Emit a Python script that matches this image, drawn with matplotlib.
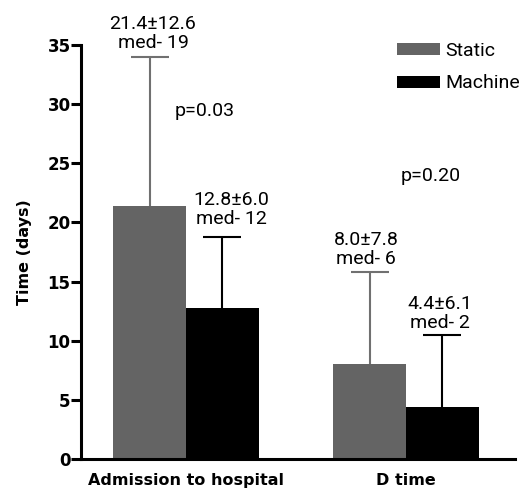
import matplotlib
matplotlib.use("Agg")
import matplotlib.pyplot as plt
import numpy as np

categories = ["Admission to hospital", "D time"]
series_names = ["Static", "Machine"]
static_mean = [21.4, 8.0]
static_sd = [12.6, 7.8]
static_med = [19, 6]
machine_mean = [12.8, 4.4]
machine_sd = [6.0, 6.1]
machine_med = [12, 2]
p_values = ["p=0.03", "p=0.20"]
yticks = [0, 5, 10, 15, 20, 25, 30, 35]

static_color = "#646464"
static_err_color = "#707070"
machine_color = "#000000"

fig = plt.figure(figsize=(5.26, 4.94), dpi=100)
ax = fig.add_axes([81/526, 1-459/494, (515-81)/526, (459-45)/494])

x = np.arange(len(categories))
w = 0.33
xs = x - w/2
xm = x + w/2

ax.bar(xs, static_mean, width=w, color=static_color, label=series_names[0], zorder=2)
ax.bar(xm, machine_mean, width=w, color=machine_color, label=series_names[1], zorder=2)

for xp, mean, sd, col in [(xs, static_mean, static_sd, static_err_color),
                          (xm, machine_mean, machine_sd, machine_color)]:
    eb = ax.errorbar(xp, mean, yerr=[np.zeros(len(x)), sd], fmt='none',
                     ecolor=col, elinewidth=1.5, capsize=14, capthick=1.5, zorder=1)
    caps = eb[1]
    if len(caps) >= 2:
        caps[0].set_visible(False)

afont = dict(family=["Roboto", "DejaVu Sans"], fontsize=14)
static_txt_pos = [(-0.15, 36.0), (0.818, 17.7)]
machine_txt_pos = [(0.205, 21.1), (1.155, 12.3)]
for i in range(len(x)):
    sx, sy = static_txt_pos[i]
    ax.text(sx, sy, f"{static_mean[i]:.1f}\u00b1{static_sd[i]:.1f}\nmed- {static_med[i]}",
            ha='center', va='center', linespacing=1.05, clip_on=False, **afont)
    mx, my = machine_txt_pos[i]
    ax.text(mx, my, f"{machine_mean[i]:.1f}\u00b1{machine_sd[i]:.1f}\nmed- {machine_med[i]}",
            ha='center', va='center', linespacing=1.05, clip_on=False, **afont)

p_pos = [(0.086, 29.4), (1.114, 23.9)]
for (px, py), ptxt in zip(p_pos, p_values):
    ax.text(px, py, ptxt, ha='center', va='center', **afont)

ax.set_xlim(-0.477, 1.495)
ax.set_ylim(0, 35)
ax.set_yticks(yticks)
ax.set_xticks(x)
ax.set_xticklabels(categories, fontweight='bold', fontsize=11.5)
for lab in ax.get_yticklabels():
    lab.set_fontweight('bold')
    lab.set_fontsize(12)

ax.spines['top'].set_visible(False)
ax.spines['right'].set_visible(False)
ax.spines['left'].set_linewidth(2.2)
ax.spines['bottom'].set_linewidth(2.2)
ax.tick_params(axis='y', length=7, width=2.2, direction='out', pad=0.5)
ax.tick_params(axis='x', length=0, pad=10)

ax.set_ylabel("Time (days)", fontweight='bold', fontsize=11.5, labelpad=11)

leg = ax.legend(loc='upper left', bbox_to_anchor=(0.728, 1.008), frameon=False,
                handlelength=2.2, handleheight=0.57, handletextpad=0.3,
                labelspacing=0.76, borderpad=0, borderaxespad=0,
                prop={'family': ["Roboto", "DejaVu Sans"], 'size': 14})

fig.savefig("out.png", dpi=100)
